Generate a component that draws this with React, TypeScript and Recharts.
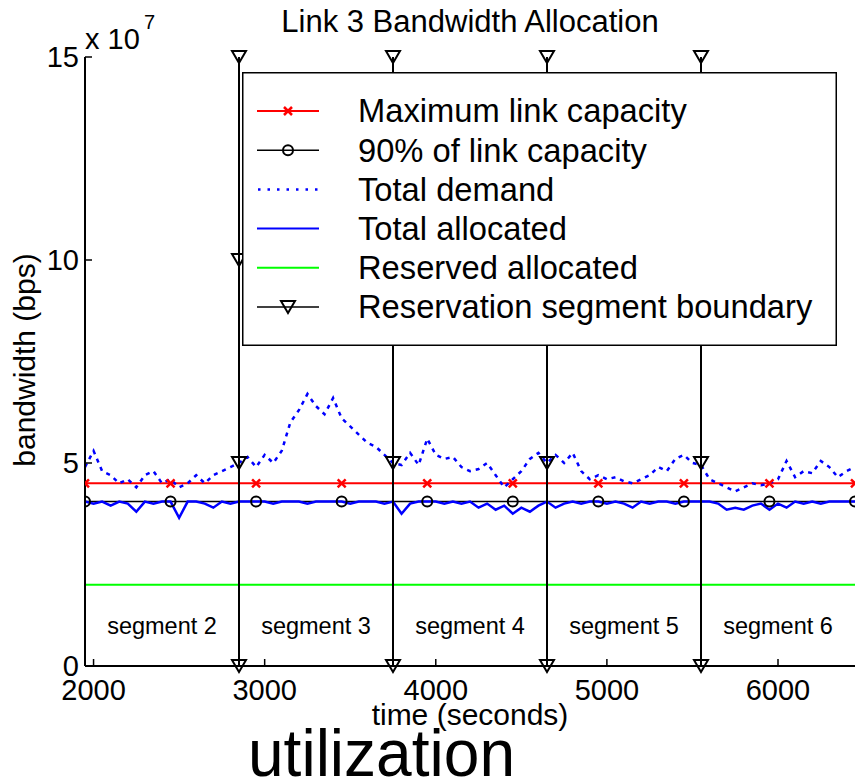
import React from "react";
import { ComposedChart, Line, Scatter, XAxis, YAxis, Legend } from "recharts";

const FONT = "'Liberation Sans', Arial, Helvetica, sans-serif";

// sample times (seconds) for demand / allocated traces
const sampleTimes = [
  1950, 2000, 2050, 2100, 2150, 2200, 2250, 2300, 2350, 2400, 2450, 2500, 2550,
  2600, 2650, 2700, 2750, 2800, 2850, 2900, 2950, 3000, 3050, 3100, 3150, 3200,
  3250, 3300, 3350, 3400, 3450, 3500, 3550, 3600, 3650, 3700, 3750, 3800, 3850,
  3900, 3950, 4000, 4050, 4100, 4150, 4200, 4250, 4300, 4350, 4400, 4450, 4500,
  4550, 4600, 4650, 4700, 4750, 4800, 4850, 4900, 4950, 5000, 5050, 5100, 5150,
  5200, 5250, 5300, 5350, 5400, 5450, 5500, 5550, 5600, 5650, 5700, 5750, 5800,
  5850, 5900, 5950, 6000, 6050, 6100, 6150, 6200, 6250, 6300, 6350, 6400, 6450,
];

// total demand, x 1e7 bps
const totalDemand = [
  4.9, 5.3, 4.8, 4.7, 4.5, 4.6, 4.4, 4.7, 4.8, 4.5, 4.6, 4.4, 4.5,
  4.7, 4.5, 4.7, 4.8, 4.9, 5.0, 5.15, 4.9, 5.2, 5.0, 5.3, 6.0, 6.3,
  6.7, 6.4, 6.2, 6.6, 6.1, 5.9, 5.7, 5.5, 5.4, 5.2, 5.0, 4.95, 5.25,
  4.95, 5.6, 5.2, 5.1, 5.15, 4.9, 4.8, 4.85, 5.0, 4.7, 4.4, 4.6, 4.8,
  5.1, 5.25, 5.0, 5.2, 5.0, 5.25, 4.8, 4.6, 4.7, 4.6, 4.65, 4.55, 4.5,
  4.6, 4.7, 4.9, 4.8, 5.1, 5.2, 5.0, 4.95, 4.6, 4.5, 4.4, 4.3, 4.4,
  4.5, 4.45, 4.5, 4.6, 5.05, 4.65, 4.8, 4.75, 5.05, 4.9, 4.65, 4.8, 4.9,
];

// total allocated, x 1e7 bps
const totalAllocated = [
  4.05, 4.0, 4.05, 3.95, 4.05, 4.0, 3.8, 4.05, 4.0, 4.05, 4.05, 3.65, 4.05,
  4.05, 4.0, 3.9, 4.05, 4.0, 4.05, 4.05, 4.05, 4.05, 4.0, 4.05, 4.05, 4.05,
  4.0, 4.05, 4.05, 4.05, 4.05, 4.0, 4.05, 4.05, 4.05, 4.0, 4.05, 3.75, 4.0,
  4.05, 4.05, 4.05, 4.0, 4.05, 4.0, 4.05, 3.9, 4.0, 3.85, 3.95, 3.75, 3.9,
  3.8, 3.95, 4.05, 3.9, 4.0, 4.05, 4.0, 4.05, 4.05, 4.0, 4.05, 4.0, 3.9,
  4.05, 4.0, 4.05, 4.05, 4.0, 4.05, 4.05, 4.05, 4.05, 4.0, 3.85, 3.9, 3.85,
  3.95, 4.0, 3.85, 4.0, 3.9, 4.05, 4.0, 4.05, 4.0, 4.05, 4.05, 4.05, 4.05,
];

// capacity lines (marker positions), x 1e7 bps
const markerTimes = [1950, 2450, 2950, 3450, 3950, 4450, 4950, 5450, 5950, 6450];
const maxCapacity = [4.5, 4.5, 4.5, 4.5, 4.5, 4.5, 4.5, 4.5, 4.5, 4.5];
const ninetyPct = [4.05, 4.05, 4.05, 4.05, 4.05, 4.05, 4.05, 4.05, 4.05, 4.05];

const reservedTimes = [1950, 6450];
const reservedAllocated = [2, 2];

const boundaryTimes = [2850, 3750, 4650, 5550];
const boundaryLevels = [0, 5, 10, 15];

const segmentNames = ["segment 2", "segment 3", "segment 4", "segment 5", "segment 6"];
const segmentCenters = [2400, 3300, 4200, 5100, 6000];
const segmentLabelLevel = 1;

const xTicks = [2000, 3000, 4000, 5000, 6000];
const yTicks = [0, 5, 10, 15];

const legendLabels = [
  "Maximum link capacity",
  "90% of link capacity",
  "Total demand",
  "Total allocated",
  "Reserved allocated",
  "Reservation segment boundary",
];

const E7 = 1e7;
const toPoints = (ts: number[], vs: number[]) => ts.map((t, i) => ({ t, v: vs[i] * E7 }));

const demandData = toPoints(sampleTimes, totalDemand);
const allocatedData = toPoints(sampleTimes, totalAllocated);
const maxData = toPoints(markerTimes, maxCapacity);
const ninetyData = toPoints(markerTimes, ninetyPct);
const reservedData = toPoints(reservedTimes, reservedAllocated);
const boundaryData = boundaryTimes.map((bt) => boundaryLevels.map((l) => ({ t: bt, v: l * E7 })));
const segmentData = segmentNames.map((name, i) => ({ t: segmentCenters[i], v: segmentLabelLevel * E7, name }));

function XMark(props: any) {
  const { cx, cy, index } = props;
  if (cx == null || cy == null) return <g key={`xm-${index}`} />;
  const s = 4;
  return (
    <path
      key={`xm-${index}`}
      d={`M${cx - s},${cy - s}L${cx + s},${cy + s}M${cx - s},${cy + s}L${cx + s},${cy - s}`}
      stroke="#ff0000"
      strokeWidth={2.5}
    />
  );
}

function OMark(props: any) {
  const { cx, cy, index } = props;
  if (cx == null || cy == null) return <g key={`om-${index}`} />;
  return <circle key={`om-${index}`} cx={cx} cy={cy} r={5} fill="none" stroke="#000" strokeWidth={2} />;
}

function TriMark(props: any) {
  const { cx, cy, index } = props;
  if (cx == null || cy == null) return <g key={`tm-${index}`} />;
  return (
    <polygon
      key={`tm-${index}`}
      points={`${cx - 7},${cy - 6} ${cx + 7},${cy - 6} ${cx},${cy + 6}`}
      fill="none"
      stroke="#000"
      strokeWidth={2}
    />
  );
}

function SegmentLabel(props: any) {
  const { cx, cy, payload } = props;
  return (
    <text x={cx} y={cy} dy="0.35em" textAnchor="middle" fontFamily={FONT} fontSize={23.5} fill="#000">
      {payload.name}
    </text>
  );
}

function LegendBox() {
  const rowY = (i: number) => 39 + i * 39.2;
  const samples = [
    (y: number) => (
      <g>
        <line x1={15} x2={77} y1={y} y2={y} stroke="#ff0000" strokeWidth={2} />
        <XMark cx={46} cy={y} index={0} />
      </g>
    ),
    (y: number) => (
      <g>
        <line x1={15} x2={77} y1={y} y2={y} stroke="#000" strokeWidth={1.5} />
        <OMark cx={46} cy={y} index={0} />
      </g>
    ),
    (y: number) => <line x1={16} x2={77} y1={y} y2={y} stroke="#0000ff" strokeWidth={2.5} strokeDasharray="2.5 7" />,
    (y: number) => <line x1={15} x2={77} y1={y} y2={y} stroke="#0000ff" strokeWidth={2} />,
    (y: number) => <line x1={15} x2={77} y1={y} y2={y} stroke="#00ff00" strokeWidth={2} />,
    (y: number) => (
      <g>
        <line x1={15} x2={77} y1={y} y2={y} stroke="#000" strokeWidth={1.5} />
        <TriMark cx={46} cy={y} index={0} />
      </g>
    ),
  ];
  return (
    <svg width={595} height={274} style={{ display: "block" }}>
      <rect x={0.75} y={0.75} width={593.5} height={272.5} fill="#fff" stroke="#000" strokeWidth={1.5} />
      {legendLabels.map((label, i) => (
        <g key={label}>
          {samples[i](rowY(i))}
          <text x={116} y={rowY(i)} dy="0.35em" fontFamily={FONT} fontSize={32.7} fill="#000">
            {label}
          </text>
        </g>
      ))}
    </svg>
  );
}

export default function App() {
  const tickStyle = { fontFamily: FONT, fontSize: 29, fill: "#000" };
  const axisLine = { stroke: "#000", strokeWidth: 2 };
  return (
    <div style={{ position: "absolute", left: 0, top: 0, width: 856, height: 777, background: "#fff" }}>
      <ComposedChart width={856} height={777} margin={{ top: 57, right: 1, bottom: 71, left: 5 }}>
        <XAxis
          dataKey="t"
          type="number"
          domain={[1950, 6450]}
          ticks={xTicks}
          height={40}
          tickSize={-7}
          tickMargin={20}
          tick={tickStyle}
          axisLine={axisLine}
          tickLine={{ stroke: "#000", strokeWidth: 1.5 }}
          allowDataOverflow
        />
        <XAxis
          xAxisId="top"
          orientation="top"
          type="number"
          domain={[1950, 6450]}
          ticks={xTicks}
          height={0}
          tickSize={-7}
          tick={{ fill: "none", fontSize: 1 }}
          axisLine={axisLine}
          tickLine={{ stroke: "#000", strokeWidth: 1.5 }}
          allowDataOverflow
        />
        <YAxis
          type="number"
          domain={[0, 15 * E7]}
          ticks={yTicks.map((v) => v * E7)}
          tickFormatter={(v: number) => String(v / E7)}
          width={80}
          tickSize={-7}
          tickMargin={13}
          tick={tickStyle}
          axisLine={axisLine}
          tickLine={{ stroke: "#000", strokeWidth: 1.5 }}
        />
        <YAxis
          yAxisId="right"
          orientation="right"
          type="number"
          domain={[0, 15 * E7]}
          ticks={yTicks.map((v) => v * E7)}
          width={0}
          tickSize={-7}
          tick={{ fill: "none", fontSize: 1 }}
          axisLine={axisLine}
          tickLine={{ stroke: "#000", strokeWidth: 1.5 }}
        />
        <Line data={maxData} dataKey="v" type="linear" stroke="#ff0000" strokeWidth={2} dot={XMark} isAnimationActive={false} />
        <Line data={ninetyData} dataKey="v" type="linear" stroke="#000" strokeWidth={1.5} dot={OMark} isAnimationActive={false} />
        <Line
          data={demandData}
          dataKey="v"
          type="linear"
          stroke="#0000ff"
          strokeWidth={2.5}
          strokeDasharray="4 5"
          dot={false}
          isAnimationActive={false}
        />
        <Line data={allocatedData} dataKey="v" type="linear" stroke="#0000ff" strokeWidth={2.5} dot={false} isAnimationActive={false} />
        <Line data={reservedData} dataKey="v" type="linear" stroke="#00ff00" strokeWidth={2} dot={false} isAnimationActive={false} />
        {boundaryData.map((d, i) => (
          <Line
            key={`b-${i}`}
            data={d}
            dataKey="v"
            type="linear"
            stroke="#000"
            strokeWidth={2}
            dot={TriMark}
            isAnimationActive={false}
          />
        ))}
        <Scatter data={segmentData} dataKey="v" shape={SegmentLabel} isAnimationActive={false} />
        <Legend
          layout="vertical"
          align="center"
          verticalAlign="middle"
          content={() => <LegendBox />}
          wrapperStyle={{ left: 242, top: 72, width: 595, height: 274 }}
        />
      </ComposedChart>
      <svg width={856} height={777} style={{ position: "absolute", left: 0, top: 0, pointerEvents: "none" }}>
        <text x={470} y={32} textAnchor="middle" fontFamily={FONT} fontSize={31} fill="#000">
          Link 3 Bandwidth Allocation
        </text>
        <text x={85} y={49} fontFamily={FONT} fontSize={29} fill="#000">
          x 10
        </text>
        <text x={144} y={29} fontFamily={FONT} fontSize={20} fill="#000">
          7
        </text>
        <text x={35} y={360} transform="rotate(-90 35 360)" textAnchor="middle" fontFamily={FONT} fontSize={30} fill="#000">
          bandwidth (bps)
        </text>
        <text x={470} y={725} textAnchor="middle" fontFamily={FONT} fontSize={30} fill="#000">
          time (seconds)
        </text>
        <text
          x={248}
          y={776}
          textLength={267}
          lengthAdjust="spacingAndGlyphs"
          fontFamily={FONT}
          fontSize={66}
          fill="#000"
        >
          utilization
        </text>
      </svg>
    </div>
  );
}
